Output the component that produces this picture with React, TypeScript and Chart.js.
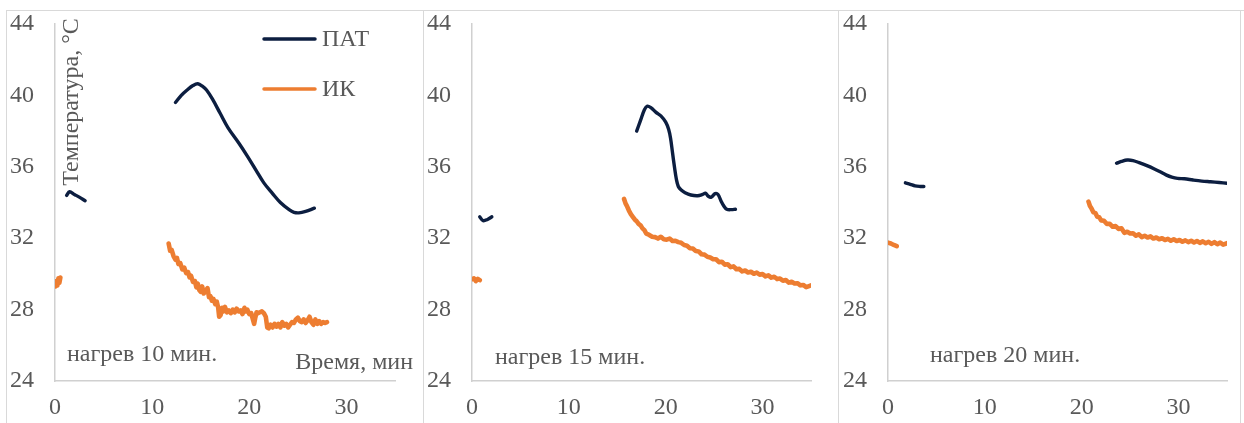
import React, { useEffect, useRef } from "react";
import { Chart, registerables } from "chart.js";

Chart.register(...registerables);

type Pt = [number, number];

// ---- data: time (min) / temperature (°C) ----
const xTicks = [0, 10, 20, 30];
const yTicks = [24, 28, 32, 36, 40, 44];
const seriesNames = ["ПАТ", "ИК"];
const panelLabels = ["нагрев 10 мин.", "нагрев 15 мин.", "нагрев 20 мин."];

// heating 10 min
const pat10a: Pt[] = [[1.2, 34.4], [1.5, 34.6], [2.0, 34.45], [2.5, 34.3], [3.1, 34.1]];
const pat10b: Pt[] = [
  [12.4, 39.6], [13.0, 40.0], [13.6, 40.3], [14.2, 40.55], [14.7, 40.65], [15.2, 40.5], [15.6, 40.3],
  [16.2, 39.8], [17.0, 39.0], [17.8, 38.2], [18.9, 37.35], [19.8, 36.6], [20.7, 35.8], [21.5, 35.1],
  [22.4, 34.5], [23.2, 34.0], [24.1, 33.6], [24.6, 33.45], [25.1, 33.42], [25.8, 33.5], [26.7, 33.68],
];
const ik10a: Pt[] = [[0.05, 29.3], [0.15, 29.6], [0.25, 29.35], [0.35, 29.75], [0.45, 29.5], [0.55, 29.8]];
const ik10b: Pt[] = [
  [11.7, 31.7], [11.85, 31.3], [12.0, 31.35], [12.2, 31.0], [12.4, 30.8], [12.55, 30.9], [12.7, 30.55],
  [12.9, 30.6], [13.1, 30.25], [13.3, 30.35], [13.5, 30.05], [13.7, 30.1], [13.85, 29.8], [14.0, 29.9],
  [14.2, 29.55], [14.4, 29.6], [14.55, 29.25], [14.7, 29.45], [14.85, 29.1], [15.0, 29.0], [15.15, 29.3],
  [15.3, 28.9], [15.5, 29.05], [15.7, 29.2], [15.85, 28.7], [16.0, 28.75], [16.15, 28.5], [16.3, 28.6],
  [16.5, 28.3], [16.65, 28.45], [16.8, 28.1], [16.9, 27.6], [17.05, 27.7], [17.2, 28.1], [17.35, 27.9],
  [17.5, 28.15], [17.7, 27.85], [17.9, 27.95], [18.1, 27.8], [18.3, 28.0], [18.5, 27.85], [18.7, 28.05],
  [18.9, 27.9], [19.1, 27.95], [19.3, 27.75], [19.5, 28.1], [19.65, 27.9], [19.8, 28.0], [20.0, 27.75],
  [20.2, 27.8], [20.35, 27.5], [20.5, 27.2], [20.6, 27.5], [20.75, 27.85], [20.9, 27.8], [21.1, 27.85],
  [21.3, 27.9], [21.5, 27.8], [21.7, 27.6], [21.85, 27.0], [22.0, 26.95], [22.2, 27.15], [22.4, 27.0],
  [22.6, 27.2], [22.8, 27.05], [23.0, 27.2], [23.2, 27.0], [23.4, 27.3], [23.6, 27.1], [23.8, 27.2],
  [24.0, 27.0], [24.2, 27.15], [24.4, 27.3], [24.6, 27.25], [24.8, 27.45], [25.0, 27.55], [25.2, 27.35],
  [25.4, 27.3], [25.6, 27.45], [25.8, 27.25], [26.0, 27.4], [26.2, 27.6], [26.4, 27.3], [26.6, 27.15],
  [26.8, 27.45], [27.0, 27.2], [27.2, 27.35], [27.4, 27.2], [27.6, 27.3], [27.8, 27.25], [28.0, 27.3],
];

// heating 15 min
const pat15a: Pt[] = [[0.8, 33.2], [1.15, 32.98], [1.6, 33.05], [2.05, 33.2]];
const pat15b: Pt[] = [
  [17.0, 38.0], [17.4, 38.6], [17.8, 39.2], [18.1, 39.4], [18.5, 39.3], [19.0, 39.05], [19.5, 38.85],
  [20.0, 38.5], [20.3, 38.1], [20.5, 37.6], [20.7, 36.8], [20.9, 36.0], [21.1, 35.3], [21.3, 34.9],
  [21.6, 34.7], [22.0, 34.55], [22.6, 34.42], [23.3, 34.38], [23.8, 34.45], [24.1, 34.52], [24.4, 34.35],
  [24.7, 34.3], [25.1, 34.5], [25.4, 34.45], [25.7, 34.1], [26.0, 33.8], [26.3, 33.62], [26.8, 33.6],
  [27.2, 33.62],
];
const ik15a: Pt[] = [[0.0, 29.7], [0.2, 29.75], [0.4, 29.6], [0.6, 29.72], [0.8, 29.65]];
const ik15b: Pt[] = [
  [15.7, 34.2], [15.85, 33.95], [16.0, 33.8], [16.2, 33.55], [16.4, 33.35], [16.6, 33.2], [16.8, 33.05],
  [17.0, 32.95], [17.2, 32.8], [17.4, 32.72], [17.6, 32.55], [17.8, 32.45], [18.0, 32.25], [18.3, 32.18],
  [18.6, 32.08], [18.9, 32.06], [19.2, 31.98], [19.5, 32.08], [19.8, 31.94], [20.1, 31.92], [20.4, 31.98],
  [20.7, 31.84], [21.0, 31.86], [21.3, 31.78], [21.6, 31.74], [21.9, 31.62], [22.2, 31.58], [22.5, 31.44],
  [22.8, 31.42], [23.1, 31.28], [23.4, 31.26], [23.7, 31.1], [24.0, 31.08], [24.3, 30.96], [24.6, 30.92],
  [24.9, 30.82], [25.2, 30.82], [25.5, 30.66], [25.8, 30.68], [26.1, 30.52], [26.4, 30.54], [26.7, 30.38],
  [27.0, 30.42], [27.3, 30.26], [27.6, 30.28], [27.9, 30.14], [28.2, 30.19], [28.5, 30.08], [28.8, 30.12],
  [29.1, 30.01], [29.4, 30.07], [29.7, 29.96], [30.0, 29.99], [30.3, 29.86], [30.6, 29.92], [30.9, 29.79],
  [31.2, 29.84], [31.5, 29.71], [31.8, 29.74], [32.1, 29.62], [32.4, 29.66], [32.7, 29.51], [33.0, 29.56],
  [33.3, 29.46], [33.6, 29.48], [33.9, 29.36], [34.2, 29.38], [34.5, 29.26], [34.8, 29.32], [35.0, 29.36],
];

// heating 20 min
const pat20a: Pt[] = [[1.8, 35.1], [2.3, 35.02], [2.8, 34.93], [3.3, 34.9], [3.7, 34.9]];
const pat20b: Pt[] = [
  [23.6, 36.2], [24.1, 36.3], [24.7, 36.38], [25.3, 36.35], [26.0, 36.22], [26.8, 36.05], [27.5, 35.88],
  [28.1, 35.72], [28.7, 35.55], [29.3, 35.42], [29.9, 35.35], [30.6, 35.33], [31.5, 35.26], [32.4, 35.2],
  [33.3, 35.16], [34.2, 35.12], [35.0, 35.08],
];
const ik20a: Pt[] = [[0.0, 31.75], [0.3, 31.7], [0.6, 31.62], [0.9, 31.55]];
const ik20b: Pt[] = [
  [20.7, 34.05], [20.85, 33.8], [21.0, 33.68], [21.2, 33.45], [21.4, 33.42], [21.6, 33.2], [21.8, 33.18],
  [22.0, 33.0], [22.3, 32.98], [22.6, 32.8], [22.9, 32.8], [23.2, 32.64], [23.5, 32.68], [23.8, 32.52],
  [24.1, 32.56], [24.4, 32.3], [24.7, 32.36], [25.0, 32.26], [25.3, 32.28], [25.6, 32.14], [25.9, 32.22],
  [26.2, 32.06], [26.5, 32.14], [26.8, 32.04], [27.1, 32.1], [27.4, 31.98], [27.7, 32.04], [28.0, 31.94],
  [28.3, 32.0], [28.6, 31.9], [28.9, 31.96], [29.2, 31.86], [29.5, 31.94], [29.8, 31.84], [30.1, 31.9],
  [30.4, 31.8], [30.7, 31.88], [31.0, 31.78], [31.3, 31.86], [31.6, 31.76], [31.9, 31.84], [32.2, 31.74],
  [32.5, 31.82], [32.8, 31.72], [33.1, 31.8], [33.4, 31.68], [33.7, 31.78], [34.0, 31.66], [34.3, 31.76],
  [34.6, 31.64], [35.0, 31.72],
];

// ---- styling / layout ----
const FONT = "'Liberation Serif', 'Times New Roman', serif";
const NAVY = "#0c1e40";
const ORANGE = "#ED7D31";
const TEXT = "#595959";
const AXIS = "#d0d0d0";
const BORDER = "#d9d9d9";
const H = 423;
const FS = 24;

function join(...segs: Pt[][]) {
  const out: { x: number; y: number | null }[] = [];
  segs.forEach((s, i) => {
    if (i > 0) {
      const prev = segs[i - 1];
      out.push({ x: (prev[prev.length - 1][0] + s[0][0]) / 2, y: null });
    }
    s.forEach(([x, y]) => out.push({ x, y }));
  });
  return out;
}

type Panel = {
  left: number;
  width: number;
  plotLeft: number;
  plotRight: number;
  pat: Pt[][];
  ik: Pt[][];
  label: string;
  labelX: number;
  labelY: number;
  main: boolean;
};

const panels: Panel[] = [
  { left: 6, width: 417, plotLeft: 55, plotRight: 395, pat: [pat10a, pat10b], ik: [ik10a, ik10b], label: panelLabels[0], labelX: 67, labelY: 355, main: true },
  { left: 423, width: 415, plotLeft: 472, plotRight: 811, pat: [pat15a, pat15b], ik: [ik15a, ik15b], label: panelLabels[1], labelX: 495, labelY: 358, main: false },
  { left: 838, width: 406, plotLeft: 888, plotRight: 1227, pat: [pat20a, pat20b], ik: [ik20a, ik20b], label: panelLabels[2], labelX: 930, labelY: 356, main: false },
];

function PanelChart({ p }: { p: Panel }) {
  const ref = useRef<HTMLCanvasElement>(null);
  useEffect(() => {
    if (!ref.current) return;
    const yw = p.plotLeft - p.left;
    const padR = p.left + p.width - p.plotRight;
    const overlay = {
      id: "overlay",
      afterDraw(chart: any) {
        const ctx = chart.ctx;
        const ox = p.left;
        ctx.save();
        ctx.font = `${FS}px ${FONT}`;
        ctx.fillStyle = TEXT;
        ctx.textBaseline = "middle";
        ctx.textAlign = "left";
        ctx.fillText(p.label, p.labelX - ox, p.labelY);
        if (p.main) {
          // legend
          const items = [
            { name: seriesNames[0], color: NAVY, y: 39 },
            { name: seriesNames[1], color: ORANGE, y: 89 },
          ];
          items.forEach((it) => {
            ctx.strokeStyle = it.color;
            ctx.lineWidth = 3.5;
            ctx.lineCap = "round";
            ctx.beginPath();
            ctx.moveTo(264 - ox, it.y);
            ctx.lineTo(315 - ox, it.y);
            ctx.stroke();
            ctx.fillText(it.name, 322 - ox, it.y + 1);
          });
          // axis titles
          ctx.textAlign = "right";
          ctx.fillText("Время, мин", 413 - ox, 363);
          ctx.save();
          ctx.translate(72 - ox, 102);
          ctx.rotate(-Math.PI / 2);
          ctx.textAlign = "center";
          ctx.fillText("Температура, °С", 0, 0);
          ctx.restore();
        }
        ctx.restore();
      },
    };
    const chart = new Chart(ref.current, {
      type: "line",
      data: {
        datasets: [
          {
            label: seriesNames[0],
            data: join(...p.pat),
            borderColor: NAVY,
            borderWidth: 3.4,
            pointRadius: 0,
            tension: 0.35,
            spanGaps: false,
            borderCapStyle: "round",
            borderJoinStyle: "round",
          },
          {
            label: seriesNames[1],
            data: join(...p.ik),
            borderColor: ORANGE,
            borderWidth: 4.6,
            pointRadius: 0,
            tension: 0,
            spanGaps: false,
            borderCapStyle: "round",
            borderJoinStyle: "round",
          },
        ],
      },
      options: {
        animation: false,
        responsive: false,
        devicePixelRatio: 1,
        layout: { padding: { top: 24, right: padR, left: 0, bottom: 0 } },
        plugins: { legend: { display: false }, tooltip: { enabled: false } },
        scales: {
          x: {
            type: "linear",
            min: 0,
            max: 35,
            grid: { display: false, drawTicks: false },
            border: { display: true, color: AXIS, width: 1.5 },
            ticks: { font: { family: FONT, size: FS }, color: TEXT, padding: 12, maxRotation: 0 },
            afterBuildTicks: (s: any) => {
              s.ticks = xTicks.map((v) => ({ value: v }));
            },
            afterFit: (s: any) => {
              s.height = H - 381;
              s.paddingLeft = 0;
              s.paddingRight = 0;
            },
          },
          y: {
            type: "linear",
            min: 24,
            max: 44,
            grid: { display: false, drawTicks: false },
            border: { display: true, color: AXIS, width: 1.5 },
            ticks: { font: { family: FONT, size: FS }, color: TEXT, padding: 21 },
            afterBuildTicks: (s: any) => {
              s.ticks = yTicks.map((v) => ({ value: v }));
            },
            afterFit: (s: any) => {
              s.width = yw;
              s.paddingTop = 0;
              s.paddingBottom = 0;
            },
          },
        },
      },
      plugins: [overlay],
    } as any);
    return () => chart.destroy();
  }, [p]);
  return (
    <canvas
      ref={ref}
      width={p.width}
      height={H}
      style={{ position: "absolute", left: p.left, top: 0, width: p.width, height: H }}
    />
  );
}

export default function App() {
  const vlines = [6, 423, 838, 1240];
  return (
    <div style={{ position: "fixed", left: 0, top: 0, width: 1244, height: H, background: "#fff", overflow: "hidden" }}>
      {panels.map((p, i) => (
        <PanelChart key={i} p={p} />
      ))}
      <div style={{ position: "absolute", left: 6, top: 10, width: 1238, height: 1, background: BORDER }} />
      {vlines.map((x) => (
        <div key={x} style={{ position: "absolute", left: x, top: 10, width: 1, height: H - 10, background: BORDER }} />
      ))}
    </div>
  );
}
